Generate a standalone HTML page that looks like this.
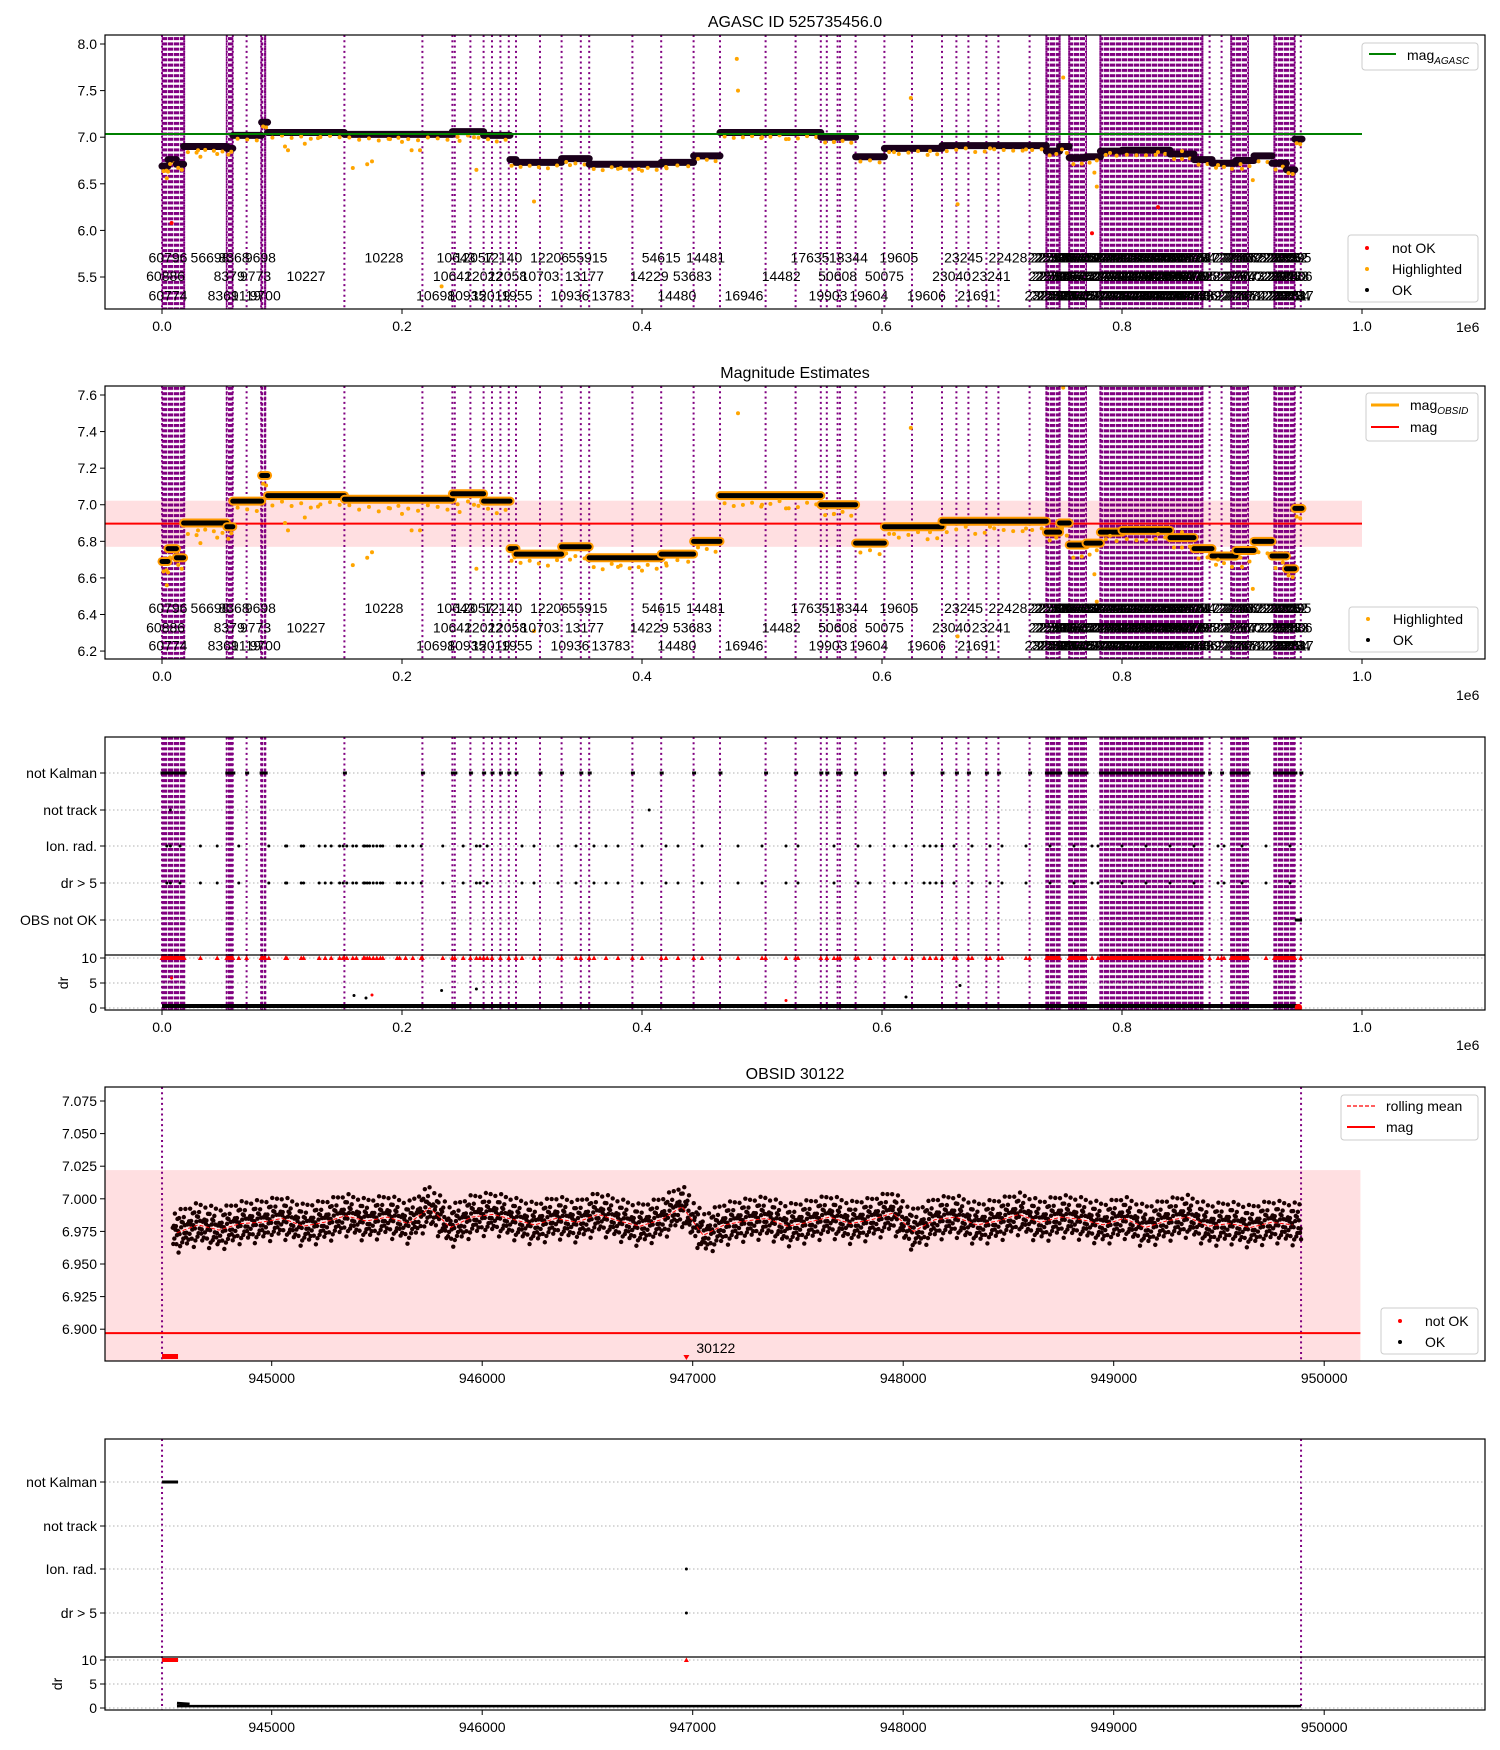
<!DOCTYPE html>
<html><head><meta charset="utf-8"><title>AGASC 525735456</title>
<style>
html,body{margin:0;padding:0;background:#fff;}
svg{display:block;font-family:"Liberation Sans","DejaVu Sans",sans-serif;}
</style></head>
<body>
<svg id="fig" xmlns="http://www.w3.org/2000/svg" width="1500" height="1750" viewBox="0 0 1500 1750">
<defs>
<pattern id="dense" width="6" height="5.3" patternUnits="userSpaceOnUse"><rect width="5.3" height="3" fill="#800080"/></pattern>
<clipPath id="c1"><rect x="105" y="35" width="1380" height="274"/></clipPath>
<clipPath id="c2"><rect x="105" y="386" width="1380" height="273"/></clipPath>
<clipPath id="c3"><rect x="105" y="737" width="1380" height="273"/></clipPath>
<clipPath id="c4"><rect x="105" y="1087" width="1380" height="274"/></clipPath>
<clipPath id="c5"><rect x="105" y="1439" width="1380" height="271"/></clipPath>
</defs>
<g id="root"></g>
</svg>
<script>
// ---- data (time in ks for panels 1-3) ----
const segStart=[0,5,12,18,54,59,83,88,152,242,268,290,295,333,356,416,443,465,549,578,602,650,737,748,756,770,782,800,840,860,875,895,910,925,937,944];
const segMag=[6.69,6.76,6.71,6.90,6.88,7.02,7.16,7.05,7.03,7.06,7.02,6.76,6.73,6.77,6.71,6.73,6.80,7.05,7.00,6.79,6.88,6.91,6.85,6.90,6.78,6.79,6.85,6.86,6.82,6.76,6.72,6.75,6.80,6.72,6.65,6.98];
const segEndLast=950;
const obsLines=[0,18.5,54,59,70.5,82.6,86,152,217,242,244,257,268,275,282,289,295,315,333,349,356,392,416,443,465,503,528,549,554,563,565,578,602,625,650,662,672,687,697,723,737,748,756,770,782,867,873,883,891,905,927,944,949];
const denseStart=[0,54,83,737,756,782,891,927];
const denseEnd=[18.5,59,86,748,770,867,905,944];
const denseCount=[10,3,2,6,8,45,8,9];
const labelX=[5,40,60,82,185,245,260,284,323,355,416,453,540,572,614,668,705, 3,56,78,120,242,268,288,315,352,406,442,516,563,602,658,691, 5,51,70,86,228,254,274,293,340,374,429,485,555,589,637,679,735];
const labelRow=[0,0,0,0,0,0,0,0,0,0,0,0,0,0,0,0,0, 1,1,1,1,1,1,1,1,1,1,1,1,1,1,1,1, 2,2,2,2,2,2,2,2,2,2,2,2,2,2,2,2,2];
const labelText=["60796","56698","8368","9698","10228","10643","12057","12140","12206","55915","54615","14481","17635","18344","19605","23245","22428",
"60886","8379","9773","10227","10642","12022","12058","10703","13177","14229","53683","14482","50608","50075","23040","23241",
"60774","8361","9119","9700","10698","10935","12019","11955","10936","13783","14480","16946","19903","19604","19606","21691","23242"];
const hiX=[5,4,32,46,102.5,105,119,159,171,175,208,215,233,248,262,310,479,480,624,663,751,777,779,909,30,130,190,200,260,340,380,400,420,500,520,560,610,640,690,720,790,830,850,880,900];
const hiY=[6.63,6.56,6.79,6.82,6.90,6.86,6.93,6.67,6.71,6.74,6.86,6.86,5.40,6.96,6.65,6.31,7.84,7.50,7.42,6.28,7.64,6.62,6.47,6.54,6.86,6.99,6.98,6.95,7.00,6.70,6.66,6.64,6.68,7.00,6.98,6.95,6.84,6.85,6.88,6.87,6.83,6.84,6.85,6.70,6.66];
const badX=[8,775,830];
const badY=[6.08,5.97,6.25];
const ionX=[4,7,15,32,46,64,89,103,104,116,118,131,136,141,148,151,154,159,162,168,169,171,173,176,179,182,184,196,198,203,209,216,234,251,262,265,271,300,310,330,345,360,370,380,400,420,430,450,480,500,520,530,560,580,590,610,620,635,640,645,650,660,675,690,700,720,740,760,775,780,800,820,840,860,880,885,900,920,940];
const notTrackX=[7,406];
const drBigX=[8,160,170,175,233,262,520,620,665];
const drBigY=[6,2.5,2,2.6,3.5,3.8,1.5,2.2,4.5];
// ---- OBSID 30122 (time in s) ----
const rollStart=944550, rollStep=100;
const rollMean=[6.974,6.980,6.976,6.981,6.982,6.985,6.979,6.982,6.987,6.983,6.986,6.981,6.993,6.978,6.986,6.988,6.984,6.980,6.985,6.982,6.988,6.983,6.979,6.984,6.994,6.972,6.980,6.983,6.985,6.979,6.982,6.986,6.981,6.984,6.989,6.975,6.984,6.986,6.980,6.983,6.988,6.982,6.986,6.984,6.980,6.985,6.978,6.983,6.986,6.979,6.981,6.978,6.982,6.980];
const noise=[0.008,-0.006,0.003,-0.010,0.012,-0.002,0.005,-0.008,0.001,0.009,-0.004,-0.012,0.006,0.002,-0.007,0.011,-0.001,0.004,-0.009,0.007,-0.003,0.010,-0.005,0.000,0.013,-0.011,0.003,-0.006,0.008];
const obsMag=6.897, bandLo=6.77, bandHi=7.022, agascMag=7.035;
const badStart=944479, badEnd=944555, spikeT=946970, obsLineA=944479, obsLineB=949890;

const NS="http://www.w3.org/2000/svg";
const root=document.getElementById('root');
function mk(tag,attrs,parent,text){const e=document.createElementNS(NS,tag);for(const k in attrs)e.setAttribute(k,attrs[k]);if(text!==undefined)e.textContent=text;(parent||root).appendChild(e);return e;}
const sxA=v=>162+v/1000*1200;
const sxB=v=>271.7+(v-945000)*0.2105;
const y1=v=>44+(8.0-v)*93.2;
const y2=v=>395+(7.6-v)*182.9;
const y4=v=>1101+(7.075-v)*1304;

function axesFrame(L,T,R,B,name){
  const r=mk('rect',{x:L,y:T,width:R-L,height:B-T,fill:'none',stroke:'#000','stroke-width':1.2});
  
  
}
function ytick(y,label,name){
  const g=mk('g',{});
  
  
  mk('line',{x1:100,x2:105,y1:y,y2:y,stroke:'#000'},g);
  mk('text',{x:97,y:y+5,'text-anchor':'end','font-size':14},g,label);
}
function xtick(x,B,label,name){
  const g=mk('g',{});
  
  
  mk('line',{x1:x,x2:x,y1:B,y2:B+5,stroke:'#000'},g);
  mk('text',{x:x,y:B+22,'text-anchor':'middle','font-size':14},g,label);
}
function title(t,y,name){const e=mk('text',{x:795,y:y,'text-anchor':'middle','font-size':16},root,t);}

function obsLinesLayer(T,B,clip,name){
  const g=mk('g',{'clip-path':'url(#'+clip+')'});
  
  
  obsLines.forEach(v=>{const l=mk('line',{x1:sxA(v),x2:sxA(v),y1:T,y2:B,stroke:'#800080','stroke-width':2,'stroke-dasharray':'2 3.3'},g);
    });
  denseStart.forEach((s,i)=>{const r=mk('rect',{x:sxA(s)-1,y:T,width:sxA(denseEnd[i])-sxA(s)+2,height:B-T,fill:'url(#dense)'},g);
    });
}
function obsLabels(rowY,clip,name){
  const g=mk('g',{'clip-path':'url(#'+clip+')','font-size':14});
  
  
  labelX.forEach((v,i)=>{const t=mk('text',{x:sxA(v),y:rowY[labelRow[i]]+5,'text-anchor':'middle'},g,labelText[i]);
    });
  denseStart.forEach((s,i)=>{const n=denseCount[i]*2;for(let k=0;k<n;k++){const v=s+(denseEnd[i]-s)*(k+0.5)/n;
    if(s<100) continue;
    const t=mk('text',{x:sxA(v),y:rowY[k%3]+5,'text-anchor':'middle'},g,String(22400+i*60+k));
    }});
}
function segmentsLayer(ys,clip,name,style){
  const g=mk('g',{'clip-path':'url(#'+clip+')'});
  
  
  segStart.forEach((s,i)=>{const e=i<segStart.length-1?segStart[i+1]:segEndLast;
    const x1=sxA(s),x2=sxA(e),y=ys(segMag[i]);
    if(style==='obs'){
      mk('line',{x1:x1,x2:x2,y1:y,y2:y,stroke:'#ff9900','stroke-width':9,'stroke-linecap':'round'},g);
      const l=mk('line',{x1:x1,x2:x2,y1:y,y2:y,stroke:'#000','stroke-width':5,'stroke-linecap':'round'},g);
      
    } else {
      const l=mk('line',{x1:x1,x2:x2,y1:y,y2:y,stroke:'#1a001a','stroke-width':7,'stroke-linecap':'round'},g);
      
    }
    const n=Math.max(2,Math.round((e-s)/8));
    for(let k=0;k<n;k++){const v=s+(e-s)*(k+0.5)/n;const d=0.03+Math.abs(noise[(k+i)%noise.length])*3;
      const c=mk('circle',{cx:sxA(v),cy:ys(segMag[i]-d),r:2,fill:'#ffa500'},g);
      }
  });
  hiX.forEach((v,i)=>{const c=mk('circle',{cx:sxA(v),cy:ys(hiY[i]),r:2,fill:'#ffa500'},g);});
}
function legendBox(x,y,w,h,name){const r=mk('rect',{x:x,y:y,width:w,height:h,rx:3,fill:'#fff','fill-opacity':0.85,stroke:'#ccc'});}
function legText(x,y,t,name){const e=mk('text',{x:x,y:y,'font-size':14},root,t);return e;}

// ================= Panel 1 =================
title('AGASC ID 525735456.0',27,'title-agasc');
obsLinesLayer(35,309,'c1','panel1-obsid-lines');
segmentsLayer(y1,'c1','panel1-magnitudes','ok');
{const g=mk('g',{'clip-path':'url(#c1)'});
 badX.forEach((v,i)=>{const c=mk('circle',{cx:sxA(v),cy:y1(badY[i]),r:2,fill:'#f00'},g);});}
{const l=mk('line',{x1:105,x2:sxA(1000),y1:y1(agascMag),y2:y1(agascMag),stroke:'#008000','stroke-width':2});}
obsLabels([y1(5.71),y1(5.51),y1(5.30)],'c1','panel1-obsid-labels');
axesFrame(105,35,1485,309,'panel1');
[8.0,7.5,7.0,6.5,6.0,5.5].forEach(v=>ytick(y1(v),v.toFixed(1),'p1-ytick'));
[0,200,400,600,800,1000].forEach(v=>xtick(sxA(v),309,(v/1000).toFixed(1),'p1-xtick'));
legText(1456,332,'1e6','p1-offset');
legendBox(1362,43,116,27,'legend-agasc');
mk('line',{x1:1369,x2:1396,y1:54,y2:54,stroke:'#008000','stroke-width':2});
{const t=legText(1407,60,'mag','legend-mag-agasc');mk('tspan',{'font-size':10,'font-style':'italic',dy:4},t,'AGASC');}
legendBox(1348,235,130,67,'legend-status');
mk('circle',{cx:1367,cy:248,r:2,fill:'#f00'});legText(1392,253,'not OK','legend-not-ok');
mk('circle',{cx:1367,cy:269,r:2,fill:'#ffa500'});legText(1392,274,'Highlighted','legend-highlighted');
mk('circle',{cx:1367,cy:290,r:2,fill:'#000'});legText(1392,295,'OK','legend-ok');

// ================= Panel 2 =================
title('Magnitude Estimates',378,'title-mag-estimates');
{const r=mk('rect',{x:105,y:y2(bandHi),width:sxA(1000)-105,height:y2(bandLo)-y2(bandHi),fill:'#ffdfe1'});}
obsLinesLayer(386,659,'c2','panel2-obsid-lines');
{const l=mk('line',{x1:105,x2:sxA(1000),y1:y2(obsMag),y2:y2(obsMag),stroke:'#f00','stroke-width':2});}
segmentsLayer(y2,'c2','panel2-magnitudes','obs');
obsLabels([y2(6.435),y2(6.33),y2(6.23)],'c2','panel2-obsid-labels');
axesFrame(105,386,1485,659,'panel2');
[7.6,7.4,7.2,7.0,6.8,6.6,6.4,6.2].forEach(v=>ytick(y2(v),v.toFixed(1),'p2-ytick'));
[0,200,400,600,800,1000].forEach(v=>xtick(sxA(v),659,(v/1000).toFixed(1),'p2-xtick'));
legText(1456,700,'1e6','p2-offset');
legendBox(1366,393,112,48,'legend-mag');
mk('line',{x1:1371,x2:1399,y1:405,y2:405,stroke:'#ffa500','stroke-width':3});
{const t=legText(1410,410,'mag','legend-mag-obsid');mk('tspan',{'font-size':10,'font-style':'italic',dy:4},t,'OBSID');}
mk('line',{x1:1371,x2:1399,y1:427,y2:427,stroke:'#f00','stroke-width':2});legText(1410,432,'mag','legend-mag-red');
legendBox(1349,607,129,45,'legend-status-2');
mk('circle',{cx:1368,cy:619,r:2,fill:'#ffa500'});legText(1393,624,'Highlighted','legend-highlighted-2');
mk('circle',{cx:1368,cy:640,r:2,fill:'#000'});legText(1393,645,'OK','legend-ok-2');

// ================= Panel 3 (flags) =================
function flagsPanel(T,B,rows,lineY,dr10,dr0,sx,clip,pref,isB){
  const drY=v=>dr0+(dr10-dr0)*v/10;
  const g=mk('g',{});
  
  
  rows.forEach(y=>mk('line',{x1:105,x2:1485,y1:y,y2:y,stroke:'#b0b0b0','stroke-dasharray':'1.5 2.5'},g));
  [10,5,0].forEach(v=>mk('line',{x1:105,x2:1485,y1:drY(v),y2:drY(v),stroke:'#b0b0b0','stroke-dasharray':'1.5 2.5'},g));
  const names=['not Kalman','not track','Ion. rad.','dr > 5','OBS not OK'];
  rows.forEach((y,i)=>ytick(y,names[i],pref+'-flag-label'));
  [10,5,0].forEach(v=>ytick(drY(v),String(v),pref+'-dr-tick'));
  const dl=mk('text',{x:0,y:0,'font-size':14,'text-anchor':'middle',transform:'translate('+(isB?62:68)+','+drY(5)+') rotate(-90)'},root,'dr');
  
  const hl=mk('line',{x1:105,x2:1485,y1:lineY,y2:lineY,stroke:'#000','stroke-width':1.2});
  return drY;
}
obsLinesLayer(737,1010,'c3','panel3-obsid-lines');
const drY3=flagsPanel(737,1010,[773,810,846,883,920],955,958,1008,sxA,'c3','p3',false);
{
 const g=mk('g',{'clip-path':'url(#c3)'});
 obsLines.forEach(v=>{const r=mk('rect',{x:sxA(v)-1.5,y:771.5,width:4,height:3,fill:'#000'},g);});
 denseStart.forEach((s,i)=>{const r=mk('rect',{x:sxA(s),y:771.5,width:sxA(denseEnd[i])-sxA(s),height:3,fill:'#000'},g);
   const r2=mk('rect',{x:sxA(s),y:drY3(10)-2,width:sxA(denseEnd[i])-sxA(s),height:4,fill:'#f00'},g);});
 notTrackX.forEach(v=>{const c=mk('circle',{cx:sxA(v),cy:810,r:1.5,fill:'#000'},g);});
 ionX.forEach(v=>{const c=mk('circle',{cx:sxA(v),cy:846,r:1.5,fill:'#000'},g);
   const c2=mk('circle',{cx:sxA(v),cy:883,r:1.5,fill:'#000'},g);
   const t=mk('path',{d:'M'+(sxA(v)-2.5)+','+(drY3(10)+2)+'l2.5,-4.5l2.5,4.5z',fill:'#f00'},g);});
 obsLines.forEach(v=>{const t=mk('path',{d:'M'+(sxA(v)-2.5)+','+(drY3(10)+2)+'l2.5,-4.5l2.5,4.5z',fill:'#f00'},g);});
 const ob=mk('line',{x1:sxA(944),x2:sxA(950),y1:920,y2:920,stroke:'#000','stroke-width':3},g);
 const dl=mk('line',{x1:sxA(0),x2:sxA(948),y1:drY3(0.4),y2:drY3(0.4),stroke:'#000','stroke-width':4},g);
 drBigX.forEach((v,i)=>{const c=mk('circle',{cx:sxA(v),cy:drY3(drBigY[i]),r:1.5,fill:i%3===0?'#f00':'#000'},g);});
 const rd=mk('rect',{x:sxA(944),y:drY3(0)-4,width:sxA(950)-sxA(944),height:7,rx:3,fill:'#f00'},g);
}
axesFrame(105,737,1485,1010,'panel3');
[0,200,400,600,800,1000].forEach(v=>xtick(sxA(v),1010,(v/1000).toFixed(1),'p3-xtick'));
legText(1456,1050,'1e6','p3-offset');

// ================= Panel 4 (OBSID 30122) =================
title('OBSID 30122',1079,'title-obsid');
function rollAt(t){const f=(t-rollStart)/rollStep;const i=Math.max(0,Math.min(rollMean.length-2,Math.floor(f)));const u=Math.max(0,Math.min(1,f-i));return rollMean[i]*(1-u)+rollMean[i+1]*u;}
{
 const g=mk('g',{'clip-path':'url(#c4)'});
 const band=mk('rect',{x:105,y:y4(bandHi),width:sxB(950172)-105,height:1361-y4(bandHi),fill:'#ffdfe1'},g);
 [obsLineA,obsLineB].forEach(v=>{const l=mk('line',{x1:sxB(v),x2:sxB(v),y1:1087,y2:1361,stroke:'#800080','stroke-width':2,'stroke-dasharray':'2 3.3'},g);});
 const ml=mk('line',{x1:105,x2:sxB(950172),y1:y4(obsMag),y2:y4(obsMag),stroke:'#f00','stroke-width':2},g);
 let k=0;
 for(let t=rollStart-20;t<=obsLineB;t+=2.5,k++){
   const v=rollAt(t)+noise[k%noise.length]*1.1+noise[(k*7+3)%noise.length]*0.5;
   const c=mk('circle',{cx:sxB(t),cy:y4(v),r:2.2,fill:'#1a0000'},g);
   
 }
 let d='';rollMean.forEach((v,i)=>{d+=(i?'L':'M')+sxB(rollStart+i*rollStep).toFixed(1)+','+y4(v).toFixed(1);});
 const rm=mk('path',{d:d,fill:'none',stroke:'#f00','stroke-width':1,'stroke-dasharray':'4 2'},g);
 const bad=mk('rect',{x:sxB(badStart),y:1354,width:sxB(badEnd)-sxB(badStart),height:5,fill:'#f00'},g);
 const sp=mk('path',{d:'M'+(sxB(spikeT)-3)+',1355l3,5l3,-5z',fill:'#f00'},g);
 const lb=mk('text',{x:sxB(spikeT)+10,y:1353,'font-size':14},g,'30122');
}
axesFrame(105,1087,1485,1361,'panel4');
[7.075,7.050,7.025,7.000,6.975,6.950,6.925,6.900].forEach(v=>ytick(y4(v),v.toFixed(3),'p4-ytick'));
[945000,946000,947000,948000,949000,950000].forEach(v=>xtick(sxB(v),1361,String(v),'p4-xtick'));
legendBox(1341,1095,137,45,'legend-rolling');
mk('line',{x1:1347,x2:1375,y1:1106,y2:1106,stroke:'#f00','stroke-width':1.3,'stroke-dasharray':'4 2'});legText(1386,1111,'rolling mean','legend-rolling-mean');
mk('line',{x1:1347,x2:1375,y1:1127,y2:1127,stroke:'#f00','stroke-width':2});legText(1386,1132,'mag','legend-mag-4');
legendBox(1381,1308,97,46,'legend-status-4');
mk('circle',{cx:1400,cy:1321,r:2,fill:'#f00'});legText(1425,1326,'not OK','legend-not-ok-4');
mk('circle',{cx:1400,cy:1342,r:2,fill:'#000'});legText(1425,1347,'OK','legend-ok-4');

// ================= Panel 5 =================
{
 const g=mk('g',{'clip-path':'url(#c5)'});
 [obsLineA,obsLineB].forEach(v=>{const l=mk('line',{x1:sxB(v),x2:sxB(v),y1:1439,y2:1710,stroke:'#800080','stroke-width':2,'stroke-dasharray':'2 3.3'},g);});
}
const drY5=flagsPanel(1439,1710,[1482,1526,1569,1613],1657,1660,1708,sxB,'c5','p5',true);
{
 const g=mk('g',{'clip-path':'url(#c5)'});
 const nk=mk('rect',{x:sxB(badStart),y:1480.5,width:sxB(badEnd)-sxB(badStart),height:3,fill:'#000'},g);
 const dc=mk('rect',{x:sxB(badStart),y:drY5(10)-2,width:sxB(badEnd)-sxB(badStart),height:4,fill:'#f00'},g);
 const c1=mk('circle',{cx:sxB(spikeT),cy:1569,r:1.5,fill:'#000'},g);
 const c2=mk('circle',{cx:sxB(spikeT),cy:1613,r:1.5,fill:'#000'},g);
 const c3=mk('path',{d:'M'+(sxB(spikeT)-2.5)+','+(drY5(10)+2)+'l2.5,-4.5l2.5,4.5z',fill:'#f00'},g);
 const dl=mk('line',{x1:sxB(rollStart),x2:sxB(obsLineB),y1:drY5(0.4),y2:drY5(0.4),stroke:'#000','stroke-width':2.5},g);
 const d0=mk('line',{x1:sxB(rollStart),x2:sxB(rollStart+60),y1:drY5(1),y2:drY5(0.8),stroke:'#000','stroke-width':3},g);
}
axesFrame(105,1439,1485,1710,'panel5');
[945000,946000,947000,948000,949000,950000].forEach(v=>xtick(sxB(v),1710,String(v),'p5-xtick'));
</script>
</body></html>
